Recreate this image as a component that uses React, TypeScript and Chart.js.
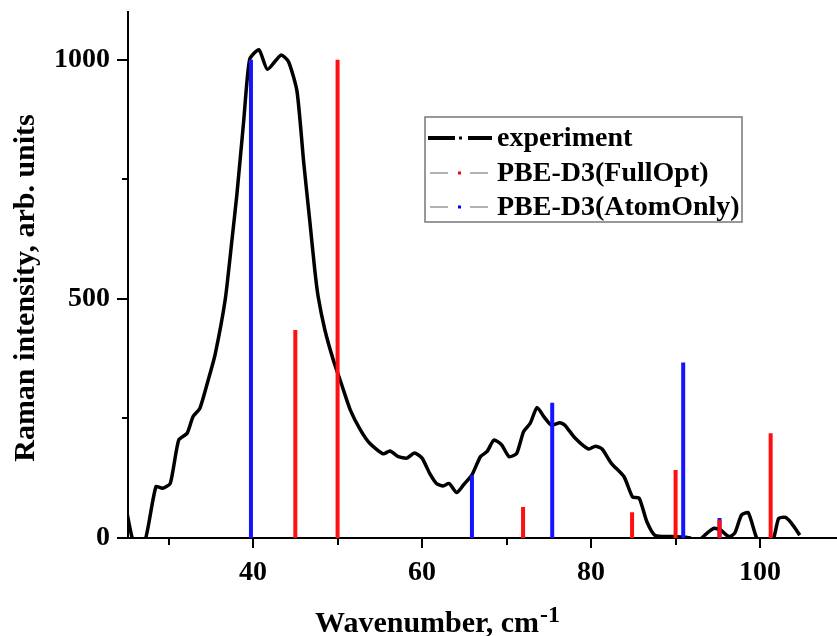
import React, { useEffect, useRef } from "react";
import { Chart, registerables } from "chart.js";
Chart.register(...registerables);

// Experimental Raman spectrum (wavenumber, intensity)
const expX = [25.0, 25.7, 26.4, 27.3, 28.5, 29.3, 30.2, 31.2, 32.2, 32.9, 33.7, 34.7, 35.5, 36.7, 37.5, 38.1, 38.9, 39.6, 40.7, 41.7, 43.3, 44.2, 45.2, 46.0, 46.7, 47.3, 47.7, 48.5, 49.5, 50.5, 51.5, 52.7, 53.8, 55.4, 56.2, 57.2, 58.2, 59.1, 60.0, 60.9, 61.7, 62.5, 63.2, 64.1, 64.9, 65.9, 66.9, 67.7, 68.5, 69.4, 70.3, 71.2, 72.0, 72.8, 73.6, 74.4, 75.3, 76.3, 76.9, 78.1, 79.7, 80.5, 81.3, 82.4, 83.9, 84.9, 85.7, 86.6, 87.6, 89.7, 91.7, 92.4, 93.1, 94.5, 95.3, 96.3, 97.0, 97.8, 98.6, 99.6, 100.6, 101.6, 102.2, 103.0, 103.7, 104.7];
const expY = [60, 0, -20, 0, 107, 104, 114, 205, 219, 254, 271, 331, 383, 498, 623, 721, 874, 1001, 1021, 980, 1010, 996, 934, 784, 665, 561, 505, 435, 372, 320, 268, 226, 198, 176, 182, 170, 167, 178, 167, 135, 114, 109, 114, 95, 111, 132, 170, 181, 205, 195, 170, 177, 222, 240, 273, 254, 236, 241, 236, 209, 186, 192, 186, 156, 128, 86, 83, 34, 5, 3, 0, -15, 0, 20, 17, 3, 10, 48, 53, 0, -20, 0, 41, 43, 31, 6];

// PBE-D3(FullOpt) lines
const fullX = [45.0, 50.0, 71.95, 84.85, 90.0, 95.2, 101.25];
const fullY = [435, 1000, 65, 54, 142, 38, 219];

// PBE-D3(AtomOnly) lines
const atomX = [39.75, 65.9, 75.4, 90.9, 95.2];
const atomY = [1000, 131, 283, 367, 42];

const xMajorTicks = [40, 60, 80, 100];
const xMinorTicks = [30, 50, 70, 90];
const yMajorTicks = [0, 500, 1000];
const yMinorTicks = [250, 750];

const legendLabels = ["experiment", "PBE-D3(FullOpt)", "PBE-D3(AtomOnly)"];

const SERIF = '"Liberation Serif", "Times New Roman", serif';

function sticks(xs: number[], ys: number[]) {
  const out: { x: number; y: number | null }[] = [];
  xs.forEach((x, i) => {
    out.push({ x, y: 0 }, { x, y: ys[i] }, { x, y: null });
  });
  return out;
}

const decorPlugin = {
  id: "decor",
  afterDraw(chart: any) {
    const ctx = chart.ctx as CanvasRenderingContext2D;
    const xs = chart.scales.x;
    const ys = chart.scales.y;
    const area = chart.chartArea;
    ctx.save();
    // tick marks
    ctx.strokeStyle = "#000";
    ctx.lineWidth = 2;
    const xt = (v: number, len: number) => {
      const p = Math.round(xs.getPixelForValue(v));
      ctx.beginPath();
      ctx.moveTo(p, area.bottom);
      ctx.lineTo(p, area.bottom + len);
      ctx.stroke();
    };
    const yt = (v: number, len: number) => {
      const p = Math.round(ys.getPixelForValue(v));
      ctx.beginPath();
      ctx.moveTo(area.left, p);
      ctx.lineTo(area.left - len, p);
      ctx.stroke();
    };
    xMajorTicks.forEach((v) => xt(v, 10));
    xMinorTicks.forEach((v) => xt(v, 7));
    yMajorTicks.forEach((v) => yt(v, 11));
    yMinorTicks.forEach((v) => yt(v, 6));

    // axis titles
    ctx.fillStyle = "#000";
    ctx.font = `bold 30px ${SERIF}`;
    ctx.textBaseline = "alphabetic";
    ctx.save();
    ctx.translate(34, 288);
    ctx.rotate(-Math.PI / 2);
    ctx.textAlign = "center";
    ctx.fillText("Raman intensity, arb. units", 0, 0);
    ctx.restore();

    const main = "Wavenumber, cm";
    ctx.font = `bold 30px ${SERIF}`;
    const w1 = ctx.measureText(main).width;
    ctx.font = `bold 24px ${SERIF}`;
    const w2 = ctx.measureText("-1").width;
    const startX = 437 - (w1 + w2) / 2;
    ctx.font = `bold 30px ${SERIF}`;
    ctx.textAlign = "left";
    ctx.fillText(main, startX, 632);
    ctx.font = `bold 24px ${SERIF}`;
    ctx.fillText("-1", startX + w1 + 1, 622);

    // legend
    const bx = 425, by = 117, bw = 317, bh = 105;
    ctx.strokeStyle = "#777";
    ctx.lineWidth = 1.5;
    ctx.strokeRect(bx, by, bw, bh);
    ctx.font = `bold 28px ${SERIF}`;
    ctx.textBaseline = "middle";
    ctx.textAlign = "left";
    const rows = [138, 173, 207];
    ctx.strokeStyle = "#000";
    ctx.lineWidth = 4;
    ctx.beginPath();
    ctx.moveTo(428, rows[0]);
    ctx.lineTo(455, rows[0]);
    ctx.moveTo(468, rows[0]);
    ctx.lineTo(492, rows[0]);
    ctx.stroke();
    ctx.fillStyle = "#000";
    ctx.fillRect(459, rows[0] - 1.5, 3, 3);
    const dotColors = ["#ff0000", "#0000ff"];
    for (let i = 1; i < 3; i++) {
      ctx.strokeStyle = "#666";
      ctx.lineWidth = 1.2;
      ctx.beginPath();
      ctx.moveTo(430, rows[i]);
      ctx.lineTo(448, rows[i]);
      ctx.moveTo(470, rows[i]);
      ctx.lineTo(488, rows[i]);
      ctx.stroke();
      ctx.fillStyle = dotColors[i - 1];
      ctx.fillRect(458, rows[i] - 1.5, 3, 3);
    }
    ctx.fillStyle = "#000";
    legendLabels.forEach((t, i) => ctx.fillText(t, 497, rows[i] + 1));
    ctx.restore();
  },
};

export default function App() {
  const ref = useRef<HTMLCanvasElement | null>(null);
  useEffect(() => {
    if (!ref.current) return;
    const expData = expX.map((x, i) => ({ x, y: expY[i] }));
    const chart = new Chart(ref.current, {
      type: "line",
      data: {
        datasets: [
          {
            label: legendLabels[1],
            data: sticks(fullX, fullY) as any,
            borderColor: "#ff1010",
            borderWidth: 4,
            pointRadius: 0,
            spanGaps: false,
            borderCapStyle: "butt",
            order: 0,
          },
          {
            label: legendLabels[2],
            data: sticks(atomX, atomY) as any,
            borderColor: "#1414ff",
            borderWidth: 4,
            pointRadius: 0,
            spanGaps: false,
            borderCapStyle: "butt",
            order: 1,
          },
          {
            label: legendLabels[0],
            data: expData,
            borderColor: "#000",
            borderWidth: 3.5,
            pointRadius: 0,
            tension: 0.2,
            borderJoinStyle: "round",
            order: 2,
          },
        ],
      },
      options: {
        responsive: false,
        animation: false,
        layout: { padding: { top: 12, left: 0, right: 0, bottom: 0 } },
        plugins: { legend: { display: false }, tooltip: { enabled: false } },
        scales: {
          x: {
            type: "linear",
            min: 25.2,
            max: 109.1,
            grid: { display: false },
            border: { display: true, color: "#000", width: 2 },
            afterBuildTicks: (s: any) => {
              s.ticks = xMajorTicks.map((v) => ({ value: v }));
            },
            afterFit: (s: any) => {
              s.height = 98;
              s.paddingLeft = 0;
              s.paddingRight = 0;
            },
            ticks: {
              autoSkip: false,
              maxRotation: 0,
              padding: 10,
              color: "#000",
              font: { family: SERIF, size: 28, weight: "bold" },
              callback: (v: any) => String(v),
            },
          },
          y: {
            type: "linear",
            min: 0,
            max: 1100,
            grid: { display: false },
            border: { display: true, color: "#000", width: 2 },
            afterBuildTicks: (s: any) => {
              s.ticks = yMajorTicks.map((v) => ({ value: v }));
            },
            afterFit: (s: any) => {
              s.width = 128;
              s.paddingTop = 0;
              s.paddingBottom = 0;
            },
            ticks: {
              autoSkip: false,
              padding: 10,
              color: "#000",
              font: { family: SERIF, size: 28, weight: "bold" },
              callback: (v: any) => String(v),
            },
          },
        },
      },
      plugins: [decorPlugin],
    });
    return () => chart.destroy();
  }, []);
  return (
    <div style={{ position: "absolute", left: 0, top: 0, width: 837, height: 636, background: "#fff" }}>
      <canvas ref={ref} width={837} height={636} style={{ display: "block" }} />
    </div>
  );
}
